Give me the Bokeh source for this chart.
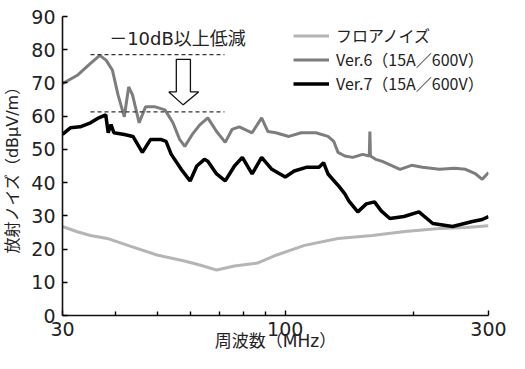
from bokeh.plotting import figure
from bokeh.models import Range1d, FixedTicker, PrintfTickFormatter, Legend, LegendItem
from bokeh.core.properties import value
from bokeh.embed import file_html
from bokeh.resources import INLINE

FONT = "DejaVu Sans, Noto Sans CJK JP"
CJK = "Noto Sans CJK JP"

# ---- data (MHz, dBuV/m) ----
floor_f = [30, 32.5, 34.9, 38.2, 43.4, 50, 58, 63, 69, 76, 86, 94, 111, 133, 160, 191, 230, 265, 300]
floor_db = [26.8, 25.2, 24.1, 23.2, 20.8, 18.2, 16.4, 15.2, 13.7, 14.9, 15.8, 17.9, 21.1, 23.2, 24.1, 25.3, 26.2, 26.5, 27.0]

v6_f = [30, 32.5, 34.9, 36.7, 38.0, 39.3, 40.5, 41.9, 42.9, 43.8, 45.4, 47.0, 49.5, 52.2, 54.5, 56.5,
        58.1, 60.5, 63.0, 65.8, 69.0, 72.3, 75.0, 78.0, 83.6, 88.0, 91.0, 95.0, 102, 109, 118, 126,
        130, 133, 138, 144, 152, 157.5, 158.0, 158.5, 163, 169, 186, 198, 210, 230, 250, 265, 280, 290, 300]
v6_db = [69.8, 72.3, 75.9, 78.3, 76.8, 73.8, 66.4, 59.8, 68.8, 66.4, 58.0, 62.8, 62.8, 61.9, 58.0, 53.0,
         50.9, 54.5, 57.4, 59.5, 55.4, 52.1, 56.0, 56.8, 55.0, 59.5, 55.4, 55.0, 53.9, 55.0, 55.0, 53.9,
         52.4, 49.1, 48.0, 47.6, 48.5, 48.0, 55.4, 48.0, 47.0, 46.4, 44.0, 45.2, 44.6, 44.0, 44.3, 44.0, 42.6, 41.0, 43.0]

v7_f = [30, 31.3, 33.0, 34.9, 36.5, 37.9, 38.4, 39.0, 39.6, 41.9, 43.9, 46.2, 48.3, 51.0, 52.5, 54.0,
        57.0, 59.8, 62.0, 64.6, 65.8, 69.0, 72.3, 76.0, 79.3, 83.6, 88.0, 93.0, 100, 105, 112, 120,
        123, 126, 134, 138, 141, 148, 155, 162, 168, 176, 190, 206, 222, 247, 275, 290, 300]
v7_db = [54.5, 56.5, 56.8, 58.0, 59.5, 60.4, 55.0, 57.5, 55.0, 54.5, 53.9, 49.1, 53.0, 53.0, 52.4, 48.5,
         44.0, 40.5, 45.0, 47.0, 46.4, 42.6, 40.5, 45.0, 47.6, 42.6, 47.6, 44.0, 41.7, 43.5, 44.6, 44.6,
         46.0, 42.6, 38.7, 36.6, 34.5, 31.2, 33.6, 34.2, 31.5, 29.2, 29.8, 31.2, 27.7, 26.8, 28.3, 28.9, 29.8]

labels = ["フロアノイズ", "Ver.6（15A／600V）", "Ver.7（15A／600V）"]
x_ticks = [30, 100, 300]
x_minor = [40, 50, 60, 70, 80, 90, 200]
y_ticks = [0, 10, 20, 30, 40, 50, 60, 70, 80, 90]

# annotation (reduction marker)
dash_f = [34.9, 72.0]
dash_hi = 78.5
dash_lo = 61.3
arrow_x = [55.5, 59.9, 59.9, 62.6, 57.6, 53.3, 55.5, 55.5]
arrow_y = [77.1, 77.1, 67.3, 67.3, 63.4, 67.3, 67.3, 77.1]
note_text = "－10dB以上低減"
note_x, note_y = 38.6, 83.3

p = figure(width=509, height=353, x_axis_type="log",
           x_range=Range1d(30, 300), y_range=Range1d(0, 90),
           output_backend="svg", toolbar_location=None,
           min_border_left=62, min_border_right=21, min_border_top=16, min_border_bottom=20)
p.outline_line_color = None
p.grid.visible = False
p.background_fill_color = "white"
p.border_fill_color = "white"

r_floor = p.line(floor_f, floor_db, line_color="#b5b5b5", line_width=3)
r_v6 = p.line(v6_f, v6_db, line_color="#7d7d7d", line_width=3)
r_v7 = p.line(v7_f, v7_db, line_color="#000000", line_width=3.5)

for yy in (dash_hi, dash_lo):
    p.line(dash_f, [yy, yy], line_color="#333333", line_width=1.3, line_dash="4 3")
p.patch(arrow_x, arrow_y, fill_color="white", line_color="#111111", line_width=1.3)
p.text(x=[note_x], y=[note_y], text=[note_text], text_font=value(FONT),
       text_font_size="18px", text_baseline="middle", text_align="left", text_color="#222222")

# axes
xa = p.xaxis[0]
xa.ticker = FixedTicker(ticks=x_ticks, minor_ticks=x_minor)
xa.formatter = PrintfTickFormatter(format="%d")
ya = p.yaxis[0]
ya.ticker = FixedTicker(ticks=y_ticks, minor_ticks=[])
for ax in (xa, ya):
    ax.axis_line_width = 1.6
    ax.axis_line_color = "#111111"
    ax.major_tick_in = 5
    ax.major_tick_out = 0
    ax.minor_tick_in = 4
    ax.minor_tick_out = 0
    ax.major_tick_line_width = 1.4
    ax.minor_tick_line_width = 1.4
    ax.major_label_text_font = FONT
    ax.major_label_text_font_size = "19px"
    ax.major_label_text_color = "#222222"
    ax.axis_label_text_font = FONT
    ax.axis_label_text_font_style = "normal"
    ax.axis_label_text_color = "#222222"
xa.axis_label = "周波数（MHz）"
ya.axis_label = "放射ノイズ（dBμV/m）"
xa.axis_label_text_font_size = "17px"
ya.axis_label_text_font_size = "16px"
xa.major_label_standoff = 6
xa.axis_label_standoff = -8
ya.major_label_standoff = 7
ya.axis_label_standoff = 6

legend = Legend(items=[LegendItem(label=labels[0], renderers=[r_floor]),
                       LegendItem(label=labels[1], renderers=[r_v6]),
                       LegendItem(label=labels[2], renderers=[r_v7])],
                location=(231, 220), padding=0, margin=0, spacing=-2,
                glyph_width=36, glyph_height=21, label_height=21, label_standoff=7,
                border_line_color=None, background_fill_alpha=0,
                label_text_font=CJK, label_text_font_size="16px", label_text_color="#222222")
p.add_layout(legend)

open("out.html", "w").write(file_html(p, INLINE))
